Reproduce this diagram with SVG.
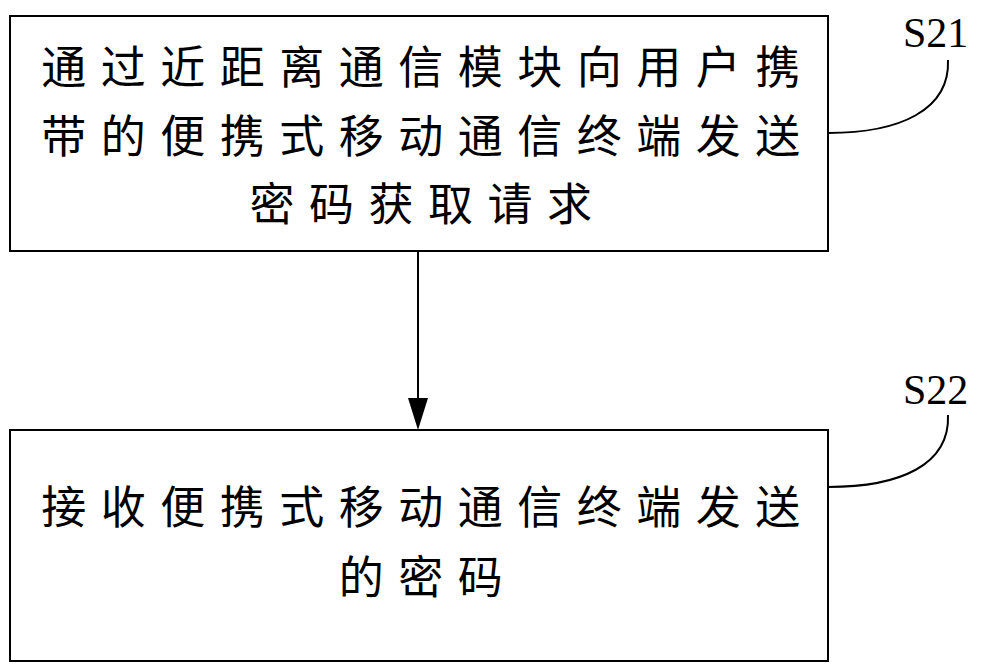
<svg xmlns="http://www.w3.org/2000/svg" width="992" height="670" viewBox="0 0 992 670">
<style>
.box{fill:#fff;stroke:#000;stroke-width:2}
.t{font-family:"Liberation Serif","Noto Sans CJK SC",serif;font-size:45px;letter-spacing:14.5px;text-anchor:middle}
.l{font-family:"Liberation Serif",serif;font-size:42px}
.c{fill:none;stroke:#000;stroke-width:2}
</style>
<rect width="992" height="670" fill="#fff"/>
<g id="n1"><rect class="box" x="10" y="16" width="818" height="235"/>
<text class="t" x="428" y="84">通过近距离通信模块向用户携</text>
<text class="t" x="428" y="153">带的便携式移动通信终端发送</text>
<text class="t" x="428" y="221">密码获取请求</text></g>
<g id="n2"><rect class="box" x="10" y="430" width="818" height="231"/>
<text class="t" x="428" y="524">接收便携式移动通信终端发送</text>
<text class="t" x="428" y="594">的密码</text></g>
<g id="s21"><text class="l" x="903" y="47">S21</text></g>
<g id="s22"><text class="l" x="903" y="404">S22</text></g>
<g id="edges">
<path d="M418,251 V398" stroke="#000" stroke-width="2"/>
<path d="M408,398 L418,430 L428,398 Z" fill="#000"/>
<path class="c" d="M828,133 C900,133 950,110 948,60"/>
<path class="c" d="M828,487 C900,487 950,465 948,415"/>
</g>
</svg>
